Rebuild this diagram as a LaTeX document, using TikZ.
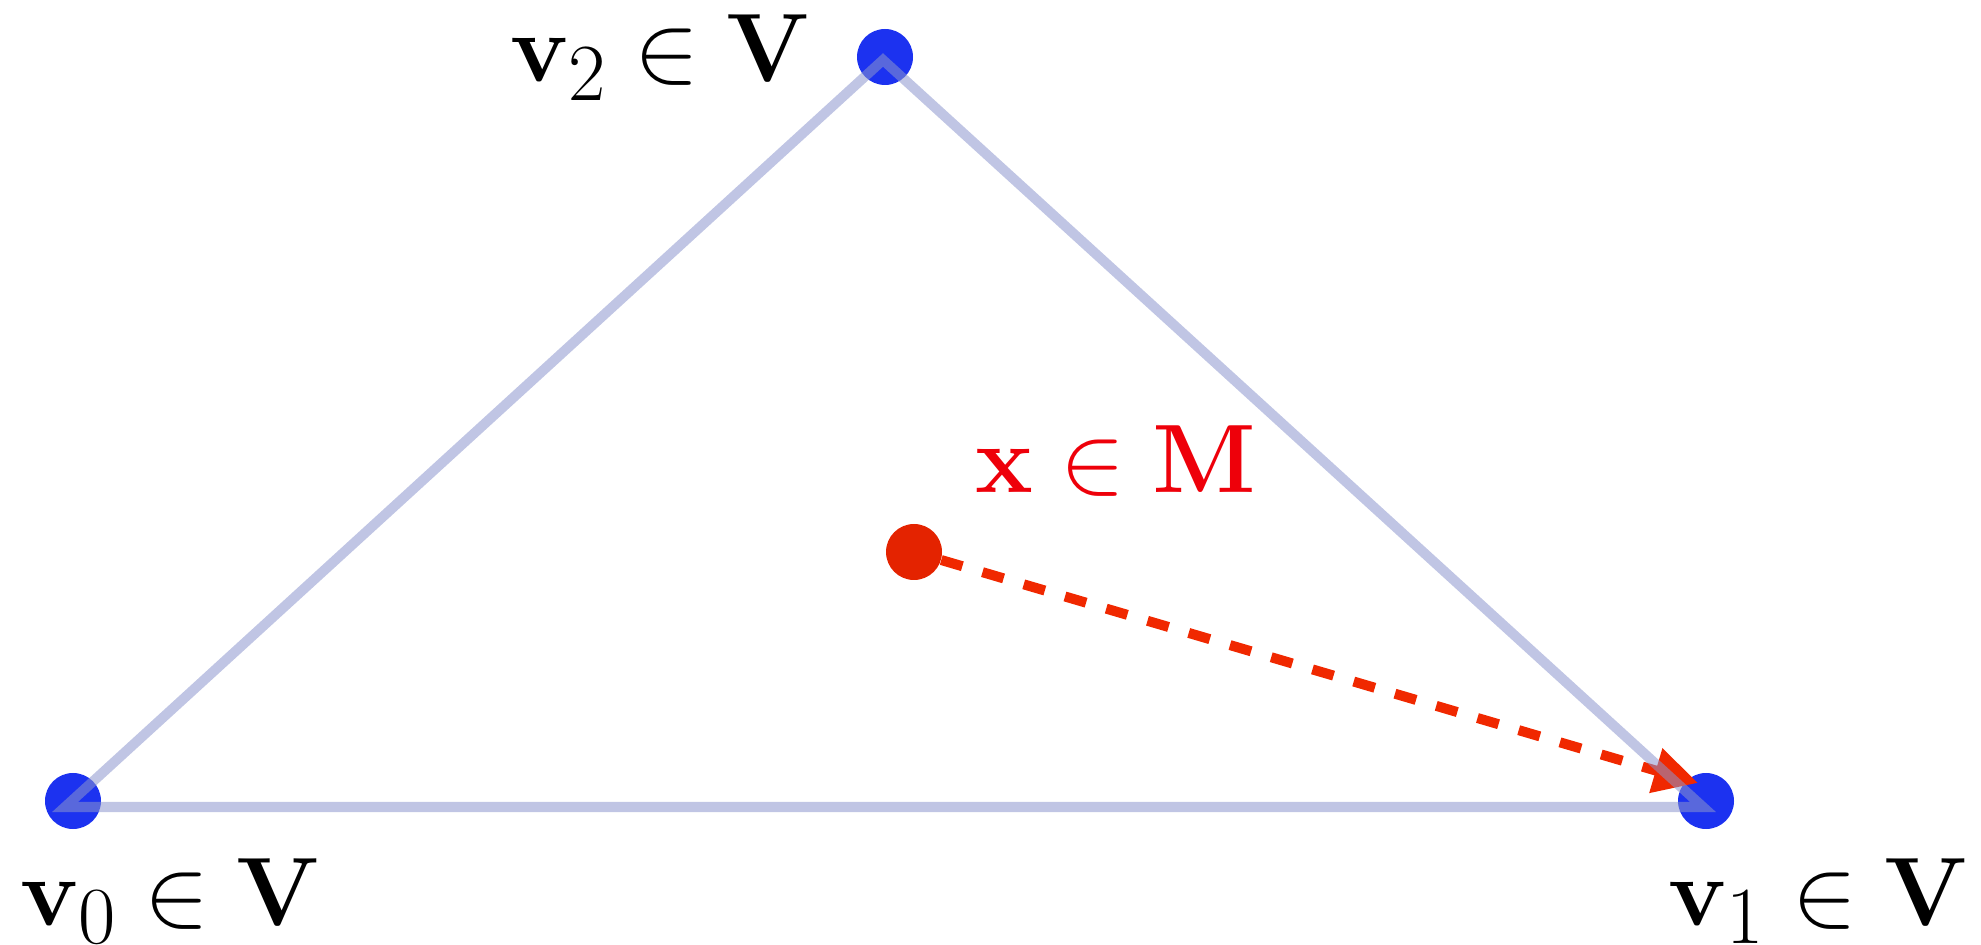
\documentclass[tikz,border=0pt]{standalone}
\usetikzlibrary{arrows.meta}
\definecolor{vblue}{RGB}{28,50,240}
\definecolor{xred}{RGB}{228,35,0}
\definecolor{arrred}{RGB}{240,40,0}
\definecolor{txtred}{RGB}{238,0,10}
\definecolor{edgeblue}{RGB}{140,150,205}
\tikzset{
  vertex/.style={circle,fill=vblue,inner sep=0pt,minimum size=28pt},
  mpoint/.style={circle,fill=xred,inner sep=0pt,minimum size=28pt},
  lbl/.style={inner sep=0pt,anchor=base west,font=\Huge,scale=1.955},
  edge/.style={draw=edgeblue,line width=5pt,draw opacity=0.55,line join=miter},
  darrow/.style={draw=arrred,line width=5pt,dash pattern=on 11pt off 10.5pt,
     -{Triangle[length=22pt,width=22pt]}}
}
\begin{document}
\begin{tikzpicture}[x=0.5pt,y=-0.5pt]
\useasboundingbox (0,0) rectangle (1981,945);
\node[vertex] (v0) at (73,801) {};
\node[vertex] (v1) at (1706,801) {};
\node[vertex] (v2) at (885,57) {};
\node[mpoint] (x) at (914,552) {};
\coordinate (t0) at (65,807);
\coordinate (t1) at (1703,807);
\coordinate (t2) at (883,60);
\coordinate (tip) at (1698,783);
\draw[darrow] (x) -- (tip);
\draw[edge] (t0) -- (t1) -- (t2) -- cycle;
\node[lbl] (l0) at (20,925) {$\mathbf{v}_0 \in \mathbf{V}$};
\node[lbl] (l1) at (1668,925) {$\mathbf{v}_1 \in \mathbf{V}$};
\node[lbl] (l2) at (510,82) {$\mathbf{v}_2 \in \mathbf{V}$};
\node[lbl,text=txtred] (lx) at (975,493) {$\mathbf{x} \in \mathbf{M}$};
\end{tikzpicture}
\end{document}
